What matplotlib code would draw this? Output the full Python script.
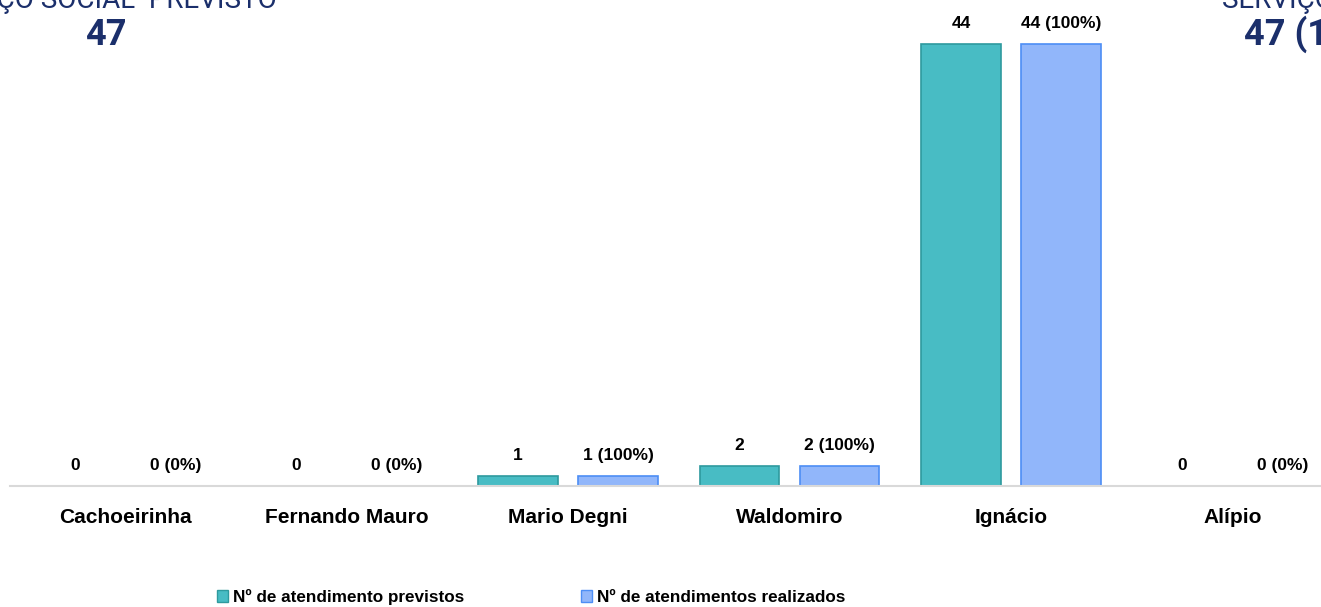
import matplotlib
matplotlib.use("Agg")
import matplotlib.pyplot as plt
from matplotlib.patches import Patch
import numpy as np

plt.rcParams["font.family"] = ["Liberation Sans", "DejaVu Sans"]

unidades = ["Cachoeirinha", "Fernando Mauro", "Mario Degni", "Waldomiro", "Ignácio", "Alípio"]
previstos = [0, 0, 1, 2, 44, 0]
realizados = [0, 0, 1, 2, 44, 0]
total_previsto = 47
total_realizado = 47

TEAL, TEAL_EDGE = "#48BCC4", "#2E9A9E"
BLUE, BLUE_EDGE = "#91B6FA", "#4D8EF5"
NAVY = "#1B2F6B"

W, H = 1321, 607
fig = plt.figure(figsize=(W / 100, H / 100), dpi=100)
ax = fig.add_axes([10 / W, (H - 486) / H, (W - 10) / W, 486 / H])

x = np.arange(len(unidades))
off, bw = 0.226, 0.36
ax.bar(x - off, previstos, bw, color=TEAL, edgecolor=TEAL_EDGE, lw=1.2)
ax.bar(x + off, realizados, bw, color=BLUE, edgecolor=BLUE_EDGE, lw=1.2)

for xi, p, r in zip(x, previstos, realizados):
    pct = round(100 * r / p) if p else 0
    ax.annotate(f"{p}", (xi - off, p), xytext=(0, 15), textcoords="offset points",
                ha="center", va="center", fontsize=12.5, fontweight="bold")
    ax.annotate(f"{r} ({pct}%)", (xi + off, r), xytext=(0, 15), textcoords="offset points",
                ha="center", va="center", fontsize=12.5, fontweight="bold")

ax.set_xlim(-0.52, 5.40)
ax.set_ylim(0, 48.38)
ax.set_xticks(x)
ax.set_xticklabels(unidades, fontsize=15, fontweight="bold")
ax.tick_params(axis="x", length=0, pad=16)
ax.set_yticks([])
for s in ["top", "right", "left"]:
    ax.spines[s].set_visible(False)
ax.spines["bottom"].set_color("#D9D9D9")
ax.spines["bottom"].set_linewidth(1.5)

# cabeçalhos dos indicadores
fig.text(277 / W, 1 - 7.5 / H, "SERVIÇO SOCIAL  PREVISTO", ha="right", va="baseline",
         fontsize=20, color=NAVY, family="Roboto")
fig.text(106 / W, 1 - 45 / H, f"{total_previsto}", ha="center", va="baseline",
         fontsize=26, fontweight="bold", color=NAVY, family="Roboto")
fig.text(1222 / W, 1 - 7.5 / H, "SERVIÇO SOCIAL  REALIZADO", ha="left", va="baseline",
         fontsize=20, color=NAVY, family="Roboto")
fig.text(1244 / W, 1 - 45 / H, f"{total_realizado} (100%)", ha="left", va="baseline",
         fontsize=26, fontweight="bold", color=NAVY, family="Roboto")

handles = [Patch(facecolor=TEAL, edgecolor=TEAL_EDGE), Patch(facecolor=BLUE, edgecolor=BLUE_EDGE)]
fig.legend(handles, ["Nº de atendimento previstos", "Nº de atendimentos realizados"],
           loc="center", bbox_to_anchor=(531 / W, 1 - 597 / H), ncol=2, frameon=False,
           prop={"weight": "bold", "size": 12.3}, handlelength=0.65, handleheight=0.65,
           handletextpad=0.3, columnspacing=6.8)

fig.savefig("out.png", dpi=100)
